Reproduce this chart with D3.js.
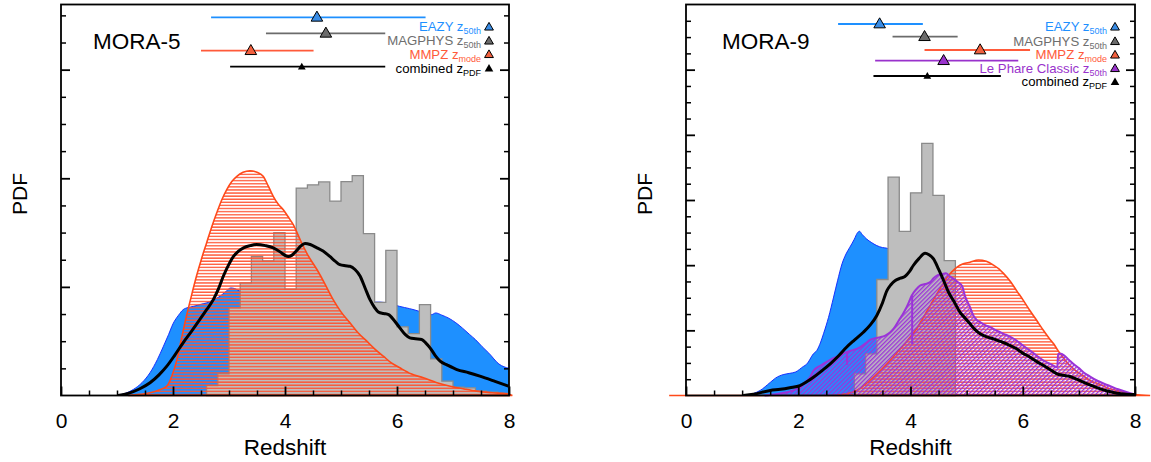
<!DOCTYPE html>
<html><head><meta charset="utf-8">
<script src="https://cdn.jsdelivr.net/npm/d3@7"></script>
<style>
body{margin:0;background:#fff}
svg{display:block}
text{font-family:"Liberation Sans",Arial,Helvetica,sans-serif}
</style></head>
<body><svg id="c" width="1151" height="462"></svg>
<script>
// ---------------- DATA ----------------
const xTickLabels = [0, 2, 4, 6, 8];
const xLabel = "Redshift";
const yLabel = "PDF";
const panelNames = ["MORA-5", "MORA-9"];

// MORA-5 : [redshift, PDF]
const m5Eazy = [[1.0,0],[1.15,0.002],[1.29,0.0055],[1.45,0.012],[1.59,0.021],[1.72,0.033],[1.83,0.0454],[1.92,0.056],[2.0,0.066],[2.1,0.074],[2.18,0.079],[2.27,0.081],[2.36,0.082],[2.5,0.084],[2.6,0.0853],[2.72,0.088],[2.84,0.0914],[2.95,0.096],[3.03,0.099],[3.1,0.0985],[3.2,0.096],[3.5,0.093],[4.0,0.09],[4.5,0.088],[5.0,0.087],[5.4,0.086],[5.7,0.086],[6.05,0.082],[6.39,0.0776],[6.55,0.0745],[6.62,0.0745],[6.69,0.076],[6.8,0.074],[6.93,0.071],[7.05,0.067],[7.17,0.062],[7.3,0.056],[7.4,0.0515],[7.52,0.045],[7.64,0.039],[7.82,0.029],[8.0,0.025]];
const m5MagphysStart = 2.6, binWidth = 0.2;
const m5Magphys = [0.0092,0.020,0.0807,0.1037,0.128,0.124,0.150,0.098,0.191,0.194,0.1966,0.179,0.197,0.2024,0.149,0.0858,0.1337,0.0632,0.057,0.0837,0.0337,0.0132,0.0077,0.0071,0.004,0.003,0.002];
const m5Mmpz = [[1.2,0],[1.4,0.001],[1.59,0.0025],[1.75,0.005],[1.89,0.0086],[1.98,0.018],[2.07,0.033],[2.15,0.052],[2.24,0.073],[2.33,0.092],[2.42,0.11],[2.51,0.126],[2.6,0.1405],[2.69,0.155],[2.78,0.168],[2.87,0.18],[2.96,0.1895],[3.05,0.197],[3.14,0.2018],[3.25,0.2055],[3.375,0.207],[3.5,0.2055],[3.61,0.2018],[3.7,0.193],[3.79,0.1834],[3.88,0.176],[3.97,0.171],[4.05,0.165],[4.15,0.157],[4.27,0.1435],[4.4,0.13],[4.57,0.116],[4.7,0.104],[4.86,0.0883],[5.0,0.077],[5.16,0.0669],[5.3,0.058],[5.46,0.05],[5.6,0.043],[5.76,0.036],[5.9,0.030],[6.05,0.0255],[6.25,0.020],[6.47,0.0163],[6.7,0.012],[6.95,0.0086],[7.2,0.006],[7.42,0.004],[7.7,0.0025],[7.96,0.0015],[8.06,0]];
const m5Combined = [[1.02,0],[1.2,0.002],[1.4,0.006],[1.59,0.0117],[1.75,0.019],[1.89,0.027],[2.03,0.037],[2.18,0.0485],[2.33,0.059],[2.48,0.070],[2.6,0.079],[2.72,0.0883],[2.81,0.098],[2.9,0.11],[3.0,0.121],[3.08,0.128],[3.17,0.133],[3.26,0.136],[3.38,0.138],[3.49,0.139],[3.65,0.138],[3.79,0.136],[3.92,0.132],[4.0,0.129],[4.06,0.128],[4.12,0.129],[4.2,0.133],[4.27,0.137],[4.36,0.140],[4.45,0.139],[4.57,0.136],[4.68,0.133],[4.8,0.128],[4.9,0.1235],[4.98,0.1205],[5.08,0.1195],[5.16,0.119],[5.25,0.116],[5.34,0.11],[5.43,0.099],[5.52,0.088],[5.6,0.081],[5.67,0.0767],[5.76,0.0755],[5.85,0.0745],[5.95,0.069],[6.05,0.0623],[6.15,0.056],[6.23,0.053],[6.33,0.0522],[6.44,0.0515],[6.52,0.048],[6.59,0.0439],[6.68,0.037],[6.77,0.0316],[6.9,0.028],[7.07,0.0239],[7.28,0.021],[7.48,0.0178],[7.75,0.013],[7.99,0.0086]];
// legend estimates [low, value, high]
const m5Names = ["EAZY", "MAGPHYS", "MMPZ", "combined"];
const m5Subs  = ["50th", "50th", "mode", "PDF"];
const m5Est   = [[2.68,4.57,6.51],[3.66,4.73,5.79],[2.50,3.39,4.51],[3.02,4.30,5.79]];

// MORA-9
const m9Eazy = [[1.08,0],[1.2,0.003],[1.32,0.0077],[1.5,0.020],[1.6,0.027],[1.73,0.032],[1.85,0.034],[1.95,0.036],[2.09,0.0445],[2.15,0.048],[2.27,0.064],[2.33,0.069],[2.4,0.082],[2.45,0.0947],[2.54,0.12],[2.63,0.151],[2.7,0.176],[2.78,0.202],[2.85,0.217],[2.92,0.2276],[3.0,0.24],[3.05,0.249],[3.09,0.252],[3.14,0.247],[3.22,0.240],[3.3,0.235],[3.40,0.230],[3.5,0.227],[3.58,0.226],[3.7,0.218],[3.8,0.2],[3.9,0.175],[4.0,0.15],[4.1,0.12],[4.2,0.09],[4.3,0.065],[4.4,0.045],[4.5,0.028],[4.6,0.015],[4.7,0.007],[4.8,0.002],[4.9,0]];
const m9MagphysStart = 3.0;
const m9Magphys = [0.0333,0.064,0.178,0.335,0.252,0.311,0.387,0.307,0.207];
const m9Mmpz = [[-0.3,0],[2.5,0],[2.8,0.002],[3.04,0.0077],[3.3,0.025],[3.58,0.0486],[3.8,0.07],[3.99,0.089],[4.12,0.104],[4.23,0.12],[4.35,0.138],[4.47,0.156],[4.56,0.169],[4.65,0.1815],[4.74,0.19],[4.83,0.197],[4.94,0.202],[5.06,0.2045],[5.21,0.208],[5.35,0.206],[5.48,0.2],[5.58,0.194],[5.66,0.187],[5.78,0.175],[5.89,0.161],[6.01,0.146],[6.13,0.130],[6.25,0.115],[6.37,0.0997],[6.46,0.089],[6.55,0.0793],[6.62,0.07],[6.67,0.064],[6.75,0.055],[6.84,0.046],[6.96,0.037],[7.08,0.03],[7.2,0.023],[7.38,0.0169],[7.5,0.012],[7.68,0.0077],[7.85,0.004],[8.0,0.0015],[8.27,0]];
const m9LePhare = [[1.4,0],[1.6,0.002],[1.8,0.005],[1.95,0.009],[2.03,0.0128],[2.12,0.02],[2.21,0.028],[2.27,0.038],[2.4,0.046],[2.57,0.0547],[2.7,0.06],[2.86,0.0665],[2.95,0.069],[3.10,0.074],[3.2,0.08],[3.28,0.0854],[3.37,0.088],[3.46,0.0895],[3.55,0.092],[3.64,0.097],[3.72,0.105],[3.81,0.1177],[3.87,0.126],[3.93,0.1355],[3.98,0.145],[4.02,0.153],[4.1,0.163],[4.17,0.1688],[4.26,0.171],[4.35,0.174],[4.41,0.18],[4.47,0.184],[4.55,0.186],[4.63,0.1877],[4.7,0.183],[4.77,0.179],[4.83,0.175],[4.92,0.168],[4.97,0.153],[5.02,0.143],[5.06,0.1355],[5.12,0.1228],[5.18,0.116],[5.24,0.1125],[5.33,0.108],[5.42,0.1048],[5.55,0.099],[5.66,0.0947],[5.78,0.09],[5.89,0.0844],[6.0,0.077],[6.13,0.069],[6.25,0.061],[6.37,0.0537],[6.5,0.048],[6.615,0.0434],[6.63,0.064],[6.68,0.064],[6.73,0.062],[6.82,0.055],[6.9,0.0486],[7.0,0.042],[7.08,0.0358],[7.2,0.029],[7.32,0.023],[7.45,0.018],[7.56,0.0143],[7.7,0.0095],[7.86,0.005],[8.0,0.0015]];
const m9LePhareSteps = [[2.87,0.0665,0.047],[4.03,0.153,0.079]];
const m9Combined = [[1.02,0],[1.2,0.002],[1.5,0.0077],[1.68,0.0095],[1.85,0.012],[2.03,0.0153],[2.15,0.021],[2.27,0.028],[2.42,0.038],[2.57,0.0486],[2.72,0.061],[2.86,0.074],[3.0,0.085],[3.16,0.097],[3.28,0.108],[3.40,0.1228],[3.5,0.142],[3.58,0.161],[3.65,0.17],[3.73,0.1765],[3.82,0.18],[3.9,0.1826],[3.98,0.19],[4.05,0.1995],[4.15,0.21],[4.26,0.2184],[4.33,0.216],[4.41,0.2097],[4.5,0.194],[4.59,0.1765],[4.68,0.158],[4.77,0.145],[4.88,0.128],[4.97,0.119],[5.06,0.11],[5.15,0.101],[5.24,0.0947],[5.36,0.09],[5.48,0.087],[5.6,0.083],[5.72,0.079],[5.89,0.0716],[6.0,0.065],[6.13,0.0588],[6.25,0.052],[6.37,0.046],[6.5,0.039],[6.61,0.0333],[6.72,0.031],[6.84,0.0292],[6.96,0.025],[7.08,0.0205],[7.23,0.015],[7.38,0.0102],[7.53,0.0065],[7.68,0.0036],[7.85,0.002],[8.0,0.0015]];
const m9Names = ["EAZY", "MAGPHYS", "MMPZ", "Le Phare Classic", "combined"];
const m9Subs  = ["50th", "50th", "mode", "50th", "PDF"];
const m9Est   = [[2.71,3.45,4.22],[3.68,4.25,4.84],[4.25,5.24,6.13],[3.37,4.59,5.92],[3.34,4.30,5.61]];

// ---------------- STYLE / LAYOUT ----------------
const COL = {
  EAZY: {line:"#1E90FF", text:"#1E90FF", tri:"#3a8de6"},
  MAGPHYS: {line:"#6b6b6b", text:"#6e6e6e", tri:"#6b6b6b"},
  MMPZ: {line:"#ff5a3a", text:"#ff5a3a", tri:"#f2603e"},
  "Le Phare Classic": {line:"#9932CC", text:"#9932CC", tri:"#9932CC"},
  combined: {line:"#000", text:"#000", tri:"#000"}
};
const svg = d3.select("#c");
const defs = svg.append("defs");
const pr = defs.append("pattern").attr("id","hatchRed").attr("patternUnits","userSpaceOnUse")
  .attr("width",8).attr("height",3.1);
pr.append("rect").attr("x",0).attr("y",0.2).attr("width",8).attr("height",1.3).attr("fill","#ff5230");
const pp = defs.append("pattern").attr("id","hatchPurple").attr("patternUnits","userSpaceOnUse")
  .attr("width",8).attr("height",3).attr("patternTransform","rotate(-45)");
pp.append("rect").attr("x",0).attr("y",0).attr("width",8).attr("height",1.4).attr("fill","#9a33d8");

function panel(cfg){
  const x = d3.scaleLinear().domain([0,8]).range([cfg.x0,cfg.x1]);
  const y = d3.scaleLinear().domain([0,cfg.yMax]).range([cfg.yb,cfg.yt]);
  const g = svg.append("g");
  const cid = "clip"+cfg.id;
  defs.append("clipPath").attr("id",cid).append("rect")
    .attr("x",cfg.x0).attr("y",cfg.yt).attr("width",cfg.x1-cfg.x0).attr("height",cfg.yb-cfg.yt);
  const area = d3.area().x(d=>x(d[0])).y0(y(0)).y1(d=>y(d[1])).curve(d3.curveMonotoneX);
  const line = d3.line().x(d=>x(d[0])).y(d=>y(d[1])).curve(d3.curveMonotoneX);

  // EAZY filled
  const gc = g.append("g").attr("clip-path","url(#"+cid+")");
  gc.append("path").attr("d",area(cfg.eazy)).attr("fill","#1E90FF");
  gc.append("path").attr("d",line(cfg.eazy)).attr("fill","none").attr("stroke","#1530ff").attr("stroke-width",1);

  // MAGPHYS histogram
  const hp = cfg.mag.map((v,i)=>[cfg.magStart+i*binWidth, v]);
  hp.push([cfg.magStart+cfg.mag.length*binWidth, cfg.mag[cfg.mag.length-1]]);
  const harea = d3.area().x(d=>x(d[0])).y0(y(0)).y1(d=>y(d[1])).curve(d3.curveStepAfter);
  g.append("path").attr("d",harea(hp)).attr("fill","#bebebe").attr("stroke","#8a8a8a").attr("stroke-width",1.3);

  // MMPZ hatched
  g.append("path").attr("d",area(cfg.mmpz)+"Z").attr("fill","url(#hatchRed)")
    .attr("stroke","#ff4a1a").attr("stroke-width",1.6);

  // Le Phare hatched
  if(cfg.lep){
    g.append("path").attr("d",area(cfg.lep)).attr("fill","url(#hatchPurple)");
    g.append("path").attr("d",line(cfg.lep)).attr("fill","none").attr("stroke","#9a33d8").attr("stroke-width",2);
    g.selectAll(".lst").data(cfg.lepSteps).enter().append("line")
      .attr("x1",d=>x(d[0])).attr("x2",d=>x(d[0])).attr("y1",d=>y(d[1])).attr("y2",d=>y(d[2]))
      .attr("stroke","#9a33d8").attr("stroke-width",2);
  }
  // combined
  g.append("path").attr("d",line(cfg.comb)).attr("fill","none").attr("stroke","#000")
    .attr("stroke-width",3).attr("stroke-linejoin","round").attr("clip-path","url(#"+cid+")");

  // frame
  g.append("rect").attr("x",cfg.x0).attr("y",cfg.yt).attr("width",cfg.x1-cfg.x0).attr("height",cfg.yb-cfg.yt)
    .attr("fill","none").attr("stroke","#000").attr("stroke-width",1.8);

  // axes
  const minorX = d3.range(0,8.001,0.5).filter(v=>v%2!==0);
  const ax = g.append("g").attr("transform","translate(0,"+cfg.yb+")")
    .call(d3.axisBottom(x).tickValues(xTickLabels).tickSize(-9).tickPadding(17.5).tickFormat(d3.format("d")));
  ax.select(".domain").remove();
  ax.selectAll("line").attr("stroke-width",1.8);
  ax.selectAll("text").attr("font-size",21).attr("fill","#000");
  const axm = g.append("g").attr("transform","translate(0,"+cfg.yb+")")
    .call(d3.axisBottom(x).tickValues(minorX).tickSize(-5).tickFormat(""));
  axm.select(".domain").remove(); axm.selectAll("line").attr("stroke-width",1.5);

  const major = d3.range(0.1, cfg.yMax-0.0001, 0.1);
  const minor = d3.range(0.025, cfg.yMax-0.0001, 0.025).filter(v=>Math.abs(v*10-Math.round(v*10))>1e-6);
  [[d3.axisLeft, cfg.x0],[d3.axisRight, cfg.x1]].forEach(([fn,px])=>{
    const a1 = g.append("g").attr("transform","translate("+px+",0)")
      .call(fn(y).tickValues(major).tickSize(-9).tickFormat(""));
    a1.select(".domain").remove(); a1.selectAll("line").attr("stroke-width",1.8);
    const a2 = g.append("g").attr("transform","translate("+px+",0)")
      .call(fn(y).tickValues(minor).tickSize(-5).tickFormat(""));
    a2.select(".domain").remove(); a2.selectAll("line").attr("stroke-width",1.5);
  });

  // axis titles
  g.append("text").attr("x",(cfg.x0+cfg.x1)/2).attr("y",455).attr("text-anchor","middle")
    .attr("font-size",22.5).text(xLabel);
  g.append("text").attr("transform","translate("+cfg.ylx+",194) rotate(-90)").attr("text-anchor","middle")
    .attr("font-size",21).text(yLabel);
  g.append("text").attr("x",cfg.x0+cfg.nameDx).attr("y",49).attr("font-size",22.5).text(cfg.name);

  // estimates (error bars + triangles)
  const tri = d3.symbol().type(d3.symbolTriangle);
  cfg.names.forEach((n,i)=>{
    const c = COL[n], e = cfg.est[i], yy = cfg.barY[i];
    g.append("line").attr("x1",x(e[0])).attr("x2",x(e[2])).attr("y1",yy).attr("y2",yy)
      .attr("stroke",c.line).attr("stroke-width",1.8);
    const isC = n==="combined";
    g.append("path").attr("d",tri.size(isC?26:58)()).attr("transform","translate("+x(e[1])+","+(yy+0.5)+")")
      .attr("fill",c.tri).attr("stroke",isC?"none":"#000").attr("stroke-width",1);
    // legend text
    const t = g.append("text").attr("x",cfg.legX).attr("y",cfg.legY[i]).attr("text-anchor","end")
      .attr("font-size",13.2).attr("fill",c.text);
    t.append("tspan").text(n+" z");
    t.append("tspan").attr("dy",3).attr("font-size",9).text(cfg.subs[i]);
    g.append("path").attr("d",tri.size(isC?32:34)()).attr("transform","translate("+(cfg.legX+8)+","+(cfg.legY[i]-3.5)+")")
      .attr("fill",c.tri).attr("stroke",isC?"none":"#000").attr("stroke-width",1);
  });
}

panel({id:5, x0:61, x1:509, yt:4.5, yb:395.5, yMax:0.36, ylx:27, nameDx:32, name:panelNames[0],
  eazy:m5Eazy, mag:m5Magphys, magStart:m5MagphysStart, mmpz:m5Mmpz, comb:m5Combined,
  names:m5Names, subs:m5Subs, est:m5Est, barY:[17.3,33.3,50.7,66.7], legX:481, legY:[31,45,58.5,72.5]});
panel({id:9, x0:686, x1:1135, yt:4.5, yb:395.5, yMax:0.6, ylx:652, nameDx:36, name:panelNames[1],
  eazy:m9Eazy, mag:m9Magphys, magStart:m9MagphysStart, mmpz:m9Mmpz, comb:m9Combined,
  lep:m9LePhare, lepSteps:m9LePhareSteps,
  names:m9Names, subs:m9Subs, est:m9Est, barY:[24,36.7,50,60.7,76], legX:1107, legY:[31,45.5,59,72.5,86]});
</script>
</body></html>
